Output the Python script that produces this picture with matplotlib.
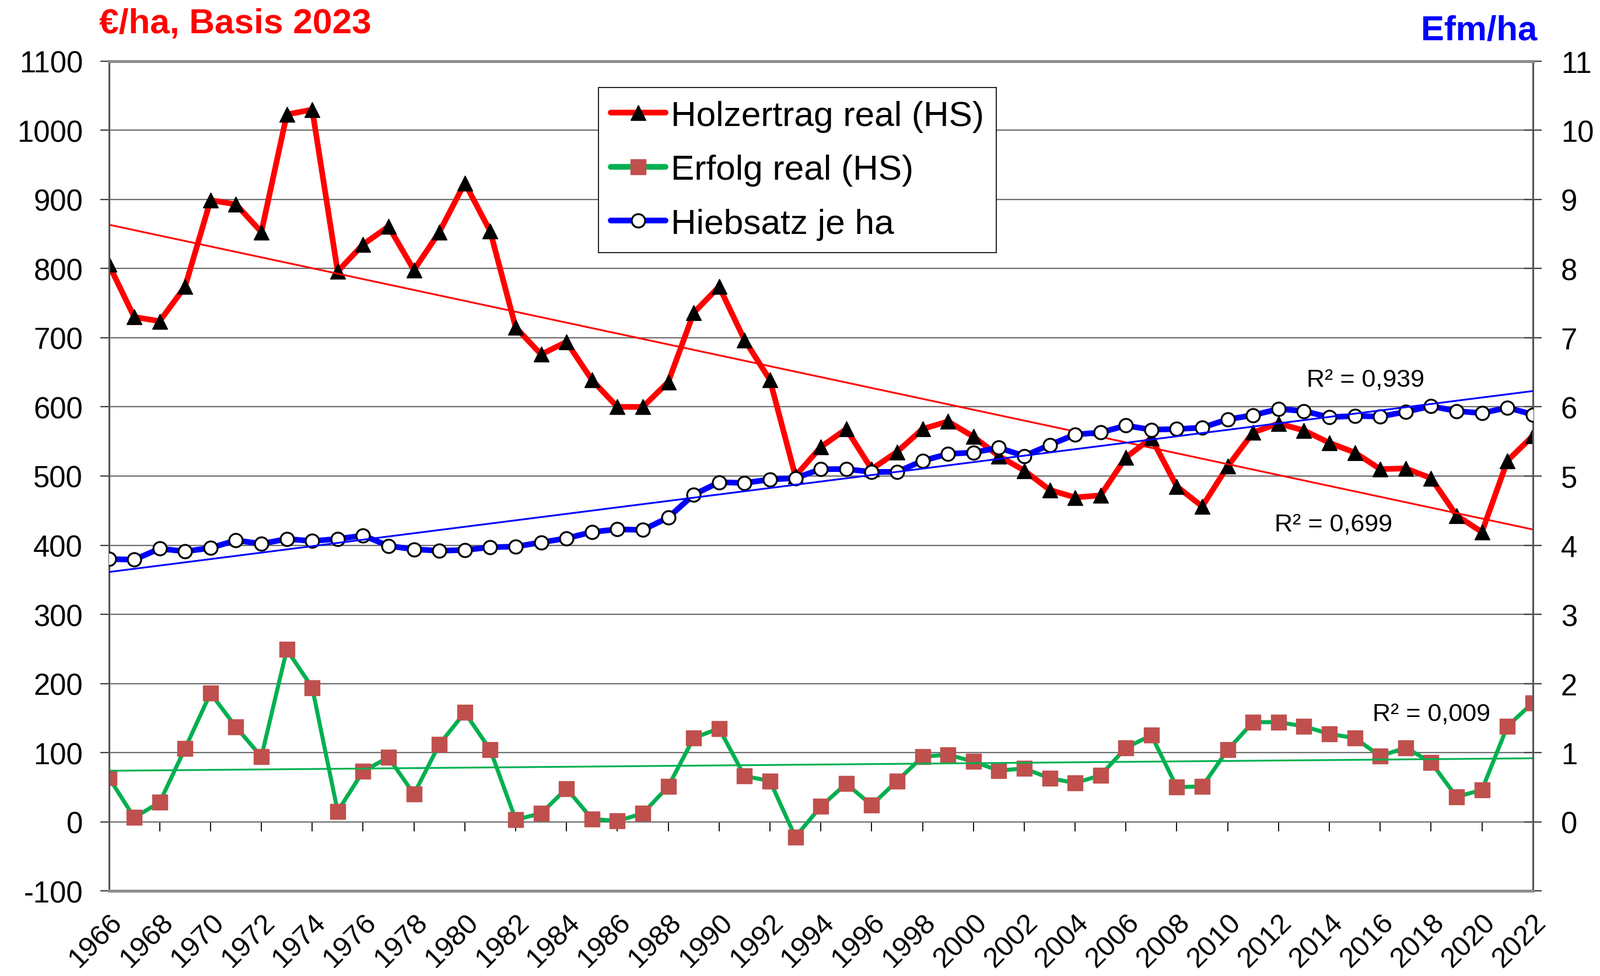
import numpy as np
import matplotlib
matplotlib.use("Agg")
import matplotlib.pyplot as plt
from matplotlib.lines import Line2D

plt.rcParams['font.family'] = ['Liberation Sans', 'DejaVu Sans']

years = list(range(1966, 2023))

# Holzertrag real (HS), EUR/ha
holzertrag = [806, 730, 724, 774, 899, 893, 853, 1023, 1030, 796, 835, 861, 798, 853, 924, 854, 715,
              676, 694, 639, 600, 600, 636, 736, 774, 697, 639, 500, 542, 568, 510, 535, 568, 579, 557,
              529, 508, 480, 469, 472, 527, 555, 485, 456, 514, 563, 576, 566, 548, 534, 510, 511, 497,
              443, 419, 522, 558]
# Erfolg real (HS), EUR/ha
erfolg = [64, 6, 28, 106, 186, 137, 94, 249, 194, 15, 73, 93, 40, 112, 158, 104, 3,
          12, 48, 4, 1, 12, 51, 121, 135, 66, 59, -22, 22, 55, 24, 59, 94, 97, 87,
          74, 77, 63, 56, 67, 107, 125, 50, 51, 104, 144, 144, 138, 127, 121, 95, 107, 86,
          36, 46, 138, 172]
# Hiebsatz je ha, Efm/ha
hiebsatz = [3.80, 3.79, 3.95, 3.91, 3.96, 4.07, 4.02, 4.09, 4.06, 4.09, 4.14, 3.99, 3.94, 3.92, 3.93, 3.97, 3.98,
            4.04, 4.10, 4.19, 4.23, 4.22, 4.40, 4.73, 4.91, 4.90, 4.95, 4.97, 5.10, 5.10, 5.06, 5.06, 5.22, 5.32, 5.34,
            5.41, 5.29, 5.45, 5.60, 5.63, 5.73, 5.67, 5.68, 5.70, 5.82, 5.88, 5.97, 5.94, 5.85, 5.87, 5.86, 5.93, 6.01,
            5.94, 5.91, 5.99, 5.89]

labels = ['Holzertrag real (HS)', 'Erfolg real (HS)', 'Hiebsatz je ha']
r2_texts = ['R² = 0,699', 'R² = 0,009', 'R² = 0,939']
left_ticks = list(range(-100, 1101, 100))
right_ticks = list(range(-1, 12))

yrs = np.array(years)


def trend(y):
    k, d = np.polyfit(yrs, y, 1)
    return k * yrs + d


RED = '#FF0000'
GREEN = '#00B050'
SQUARE = '#C0504D'
BLUE = '#0000FF'

fig = plt.figure(figsize=(27.43, 16.74), dpi=100)
ax = fig.add_axes([0.068, 0.0872, 0.890, 0.8495])
ax2 = ax.twinx()

# primary series
ax.plot(years, erfolg, color=GREEN, lw=5, marker='s', ms=18.5, mfc=SQUARE, mec=SQUARE, zorder=3)
ax.plot(years, holzertrag, color=RED, lw=7, marker='^', ms=19, mfc='black', mec='black', zorder=4)
ax.plot(years, trend(holzertrag), color=RED, lw=2.2, zorder=5)
ax.plot(years, trend(erfolg), color=GREEN, lw=2.2, zorder=5)

# secondary series
ax2.plot(years, hiebsatz, color=BLUE, lw=7, marker='o', ms=16.5, mfc='white', mec='black', mew=2.3, zorder=3)
ax2.plot(years, trend(hiebsatz), color=BLUE, lw=2.2, zorder=4)

ax.set_xlim(1966, 2022)
ax.set_ylim(-100, 1100)
ax2.set_ylim(-1, 11)

ax.set_yticks(left_ticks)
ax.set_yticklabels([str(v) for v in left_ticks])
ax2.set_yticks(right_ticks)
ax2.set_yticklabels(['' if v < 0 else str(v) for v in right_ticks])

ax.set_xticks(years[::2])
ax.set_xticklabels([str(y) for y in years[::2]], rotation=45, ha='right', va='top',
                   rotation_mode='anchor')
ax.tick_params(axis='x', length=0, labelsize=35, pad=22)
ax.tick_params(axis='y', length=11, width=1.6, color='#404040', labelsize=36.5, pad=21, direction='out')
ax2.tick_params(axis='y', length=21, width=1.6, color='#404040', labelsize=36.5, pad=24, direction='inout')

ax.grid(axis='y', color='#6f6f6f', lw=1.6)
ax.grid(axis='x', visible=False)
ax.set_axisbelow(True)

for a in (ax, ax2):
    for s in ('top', 'bottom'):
        a.spines[s].set_color('#8c8c8c')
        a.spines[s].set_linewidth(3.3)
    for s in ('left', 'right'):
        a.spines[s].set_color('#555555')
        a.spines[s].set_linewidth(2.2)

# category axis crossing at 0 with tick marks
sec = ax.secondary_xaxis(100 / 1200)
sec.set_xticks(years[::2])
sec.set_xticklabels([])
sec.tick_params(axis='x', length=11.5, width=1.3, color='black', direction='out')
sec.spines['bottom'].set_color('black')
sec.spines['bottom'].set_linewidth(1.3)

# R² labels
ax.text(2011.85, 421, r2_texts[0], fontsize=31, ha='left', va='baseline', zorder=6)
ax.text(2015.7, 147, r2_texts[1], fontsize=31, ha='left', va='baseline', zorder=6)
ax.text(2013.1, 630, r2_texts[2], fontsize=31, ha='left', va='baseline', zorder=6)

# axis titles
fig.text(170 / 2743, 1 - 57 / 1674, '€/ha, Basis 2023', color=RED, fontsize=43.5,
         fontweight='bold', ha='left', va='baseline')
fig.text(2635 / 2743, 1 - 69 / 1674, 'Efm/ha', color=BLUE, fontsize=43,
         fontweight='bold', ha='right', va='baseline')

handles = [
    Line2D([], [], color=RED, lw=7, marker='^', ms=19, mfc='black', mec='black', solid_capstyle='round'),
    Line2D([], [], color=GREEN, lw=7, marker='s', ms=18.5, mfc=SQUARE, mec=SQUARE, solid_capstyle='round'),
    Line2D([], [], color=BLUE, lw=7, marker='o', ms=16.5, mfc='white', mec='black', mew=2.3, solid_capstyle='round'),
]
leg = ax2.legend(handles, labels, loc='upper left', bbox_to_anchor=(0.344, 0.968), fontsize=43.5,
                 frameon=True, fancybox=False, edgecolor='black', framealpha=1,
                 handlelength=1.55, handletextpad=0.15, borderpad=0.35, labelspacing=0.62,
                 borderaxespad=0)
leg.get_frame().set_linewidth(1.2)
leg.set_zorder(10)

fig.savefig('out.png', dpi=100)
